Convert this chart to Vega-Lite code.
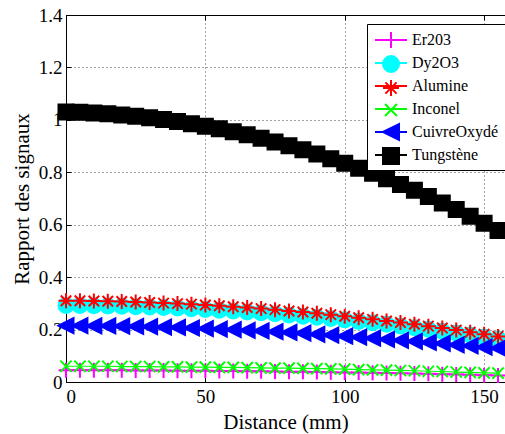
{
  "$schema": "https://vega.github.io/schema/vega-lite/v6.json",
  "width": 439,
  "height": 367,
  "autosize": "none",
  "padding": {"left": 66, "top": 15, "right": 0, "bottom": 52},
  "background": "white",
  "data": {"values": [
    {"d":0,"s":"Er203","v":0.045},{"d":5,"s":"Er203","v":0.045},{"d":10,"s":"Er203","v":0.045},{"d":15,"s":"Er203","v":0.045},{"d":20,"s":"Er203","v":0.045},{"d":25,"s":"Er203","v":0.044},{"d":30,"s":"Er203","v":0.044},{"d":35,"s":"Er203","v":0.044},{"d":40,"s":"Er203","v":0.043},{"d":45,"s":"Er203","v":0.043},{"d":50,"s":"Er203","v":0.043},{"d":55,"s":"Er203","v":0.042},{"d":60,"s":"Er203","v":0.042},{"d":65,"s":"Er203","v":0.041},{"d":70,"s":"Er203","v":0.041},{"d":75,"s":"Er203","v":0.040},{"d":80,"s":"Er203","v":0.039},{"d":85,"s":"Er203","v":0.039},{"d":90,"s":"Er203","v":0.038},{"d":95,"s":"Er203","v":0.037},{"d":100,"s":"Er203","v":0.036},{"d":105,"s":"Er203","v":0.036},{"d":110,"s":"Er203","v":0.035},{"d":115,"s":"Er203","v":0.034},{"d":120,"s":"Er203","v":0.033},{"d":125,"s":"Er203","v":0.032},{"d":130,"s":"Er203","v":0.031},{"d":135,"s":"Er203","v":0.030},{"d":140,"s":"Er203","v":0.029},{"d":145,"s":"Er203","v":0.028},{"d":150,"s":"Er203","v":0.026},{"d":155,"s":"Er203","v":0.025},
    {"d":0,"s":"Dy2O3","v":0.292},{"d":5,"s":"Dy2O3","v":0.292},{"d":10,"s":"Dy2O3","v":0.291},{"d":15,"s":"Dy2O3","v":0.290},{"d":20,"s":"Dy2O3","v":0.289},{"d":25,"s":"Dy2O3","v":0.287},{"d":30,"s":"Dy2O3","v":0.286},{"d":35,"s":"Dy2O3","v":0.284},{"d":40,"s":"Dy2O3","v":0.282},{"d":45,"s":"Dy2O3","v":0.279},{"d":50,"s":"Dy2O3","v":0.277},{"d":55,"s":"Dy2O3","v":0.274},{"d":60,"s":"Dy2O3","v":0.271},{"d":65,"s":"Dy2O3","v":0.267},{"d":70,"s":"Dy2O3","v":0.264},{"d":75,"s":"Dy2O3","v":0.260},{"d":80,"s":"Dy2O3","v":0.256},{"d":85,"s":"Dy2O3","v":0.251},{"d":90,"s":"Dy2O3","v":0.247},{"d":95,"s":"Dy2O3","v":0.242},{"d":100,"s":"Dy2O3","v":0.237},{"d":105,"s":"Dy2O3","v":0.231},{"d":110,"s":"Dy2O3","v":0.226},{"d":115,"s":"Dy2O3","v":0.220},{"d":120,"s":"Dy2O3","v":0.214},{"d":125,"s":"Dy2O3","v":0.207},{"d":130,"s":"Dy2O3","v":0.201},{"d":135,"s":"Dy2O3","v":0.194},{"d":140,"s":"Dy2O3","v":0.187},{"d":145,"s":"Dy2O3","v":0.179},{"d":150,"s":"Dy2O3","v":0.172},{"d":155,"s":"Dy2O3","v":0.164},
    {"d":0,"s":"Alumine","v":0.310},{"d":5,"s":"Alumine","v":0.310},{"d":10,"s":"Alumine","v":0.309},{"d":15,"s":"Alumine","v":0.308},{"d":20,"s":"Alumine","v":0.307},{"d":25,"s":"Alumine","v":0.305},{"d":30,"s":"Alumine","v":0.303},{"d":35,"s":"Alumine","v":0.301},{"d":40,"s":"Alumine","v":0.299},{"d":45,"s":"Alumine","v":0.297},{"d":50,"s":"Alumine","v":0.294},{"d":55,"s":"Alumine","v":0.291},{"d":60,"s":"Alumine","v":0.287},{"d":65,"s":"Alumine","v":0.284},{"d":70,"s":"Alumine","v":0.280},{"d":75,"s":"Alumine","v":0.276},{"d":80,"s":"Alumine","v":0.271},{"d":85,"s":"Alumine","v":0.267},{"d":90,"s":"Alumine","v":0.262},{"d":95,"s":"Alumine","v":0.257},{"d":100,"s":"Alumine","v":0.251},{"d":105,"s":"Alumine","v":0.245},{"d":110,"s":"Alumine","v":0.239},{"d":115,"s":"Alumine","v":0.233},{"d":120,"s":"Alumine","v":0.227},{"d":125,"s":"Alumine","v":0.220},{"d":130,"s":"Alumine","v":0.213},{"d":135,"s":"Alumine","v":0.206},{"d":140,"s":"Alumine","v":0.198},{"d":145,"s":"Alumine","v":0.190},{"d":150,"s":"Alumine","v":0.182},{"d":155,"s":"Alumine","v":0.174},
    {"d":0,"s":"Inconel","v":0.060},{"d":5,"s":"Inconel","v":0.060},{"d":10,"s":"Inconel","v":0.060},{"d":15,"s":"Inconel","v":0.060},{"d":20,"s":"Inconel","v":0.059},{"d":25,"s":"Inconel","v":0.059},{"d":30,"s":"Inconel","v":0.059},{"d":35,"s":"Inconel","v":0.058},{"d":40,"s":"Inconel","v":0.058},{"d":45,"s":"Inconel","v":0.057},{"d":50,"s":"Inconel","v":0.057},{"d":55,"s":"Inconel","v":0.056},{"d":60,"s":"Inconel","v":0.056},{"d":65,"s":"Inconel","v":0.055},{"d":70,"s":"Inconel","v":0.054},{"d":75,"s":"Inconel","v":0.053},{"d":80,"s":"Inconel","v":0.053},{"d":85,"s":"Inconel","v":0.052},{"d":90,"s":"Inconel","v":0.051},{"d":95,"s":"Inconel","v":0.050},{"d":100,"s":"Inconel","v":0.049},{"d":105,"s":"Inconel","v":0.047},{"d":110,"s":"Inconel","v":0.046},{"d":115,"s":"Inconel","v":0.045},{"d":120,"s":"Inconel","v":0.044},{"d":125,"s":"Inconel","v":0.043},{"d":130,"s":"Inconel","v":0.041},{"d":135,"s":"Inconel","v":0.040},{"d":140,"s":"Inconel","v":0.038},{"d":145,"s":"Inconel","v":0.037},{"d":150,"s":"Inconel","v":0.035},{"d":155,"s":"Inconel","v":0.034},
    {"d":0,"s":"CuivreOxydé","v":0.215},{"d":5,"s":"CuivreOxydé","v":0.215},{"d":10,"s":"CuivreOxydé","v":0.214},{"d":15,"s":"CuivreOxydé","v":0.214},{"d":20,"s":"CuivreOxydé","v":0.213},{"d":25,"s":"CuivreOxydé","v":0.212},{"d":30,"s":"CuivreOxydé","v":0.211},{"d":35,"s":"CuivreOxydé","v":0.209},{"d":40,"s":"CuivreOxydé","v":0.208},{"d":45,"s":"CuivreOxydé","v":0.206},{"d":50,"s":"CuivreOxydé","v":0.204},{"d":55,"s":"CuivreOxydé","v":0.202},{"d":60,"s":"CuivreOxydé","v":0.200},{"d":65,"s":"CuivreOxydé","v":0.197},{"d":70,"s":"CuivreOxydé","v":0.195},{"d":75,"s":"CuivreOxydé","v":0.192},{"d":80,"s":"CuivreOxydé","v":0.189},{"d":85,"s":"CuivreOxydé","v":0.186},{"d":90,"s":"CuivreOxydé","v":0.182},{"d":95,"s":"CuivreOxydé","v":0.179},{"d":100,"s":"CuivreOxydé","v":0.175},{"d":105,"s":"CuivreOxydé","v":0.171},{"d":110,"s":"CuivreOxydé","v":0.167},{"d":115,"s":"CuivreOxydé","v":0.163},{"d":120,"s":"CuivreOxydé","v":0.159},{"d":125,"s":"CuivreOxydé","v":0.155},{"d":130,"s":"CuivreOxydé","v":0.151},{"d":135,"s":"CuivreOxydé","v":0.147},{"d":140,"s":"CuivreOxydé","v":0.142},{"d":145,"s":"CuivreOxydé","v":0.138},{"d":150,"s":"CuivreOxydé","v":0.133},{"d":155,"s":"CuivreOxydé","v":0.129},
    {"d":0,"s":"Tungstène","v":1.030},{"d":5,"s":"Tungstène","v":1.029},{"d":10,"s":"Tungstène","v":1.026},{"d":15,"s":"Tungstène","v":1.023},{"d":20,"s":"Tungstène","v":1.019},{"d":25,"s":"Tungstène","v":1.014},{"d":30,"s":"Tungstène","v":1.008},{"d":35,"s":"Tungstène","v":1.001},{"d":40,"s":"Tungstène","v":0.994},{"d":45,"s":"Tungstène","v":0.985},{"d":50,"s":"Tungstène","v":0.976},{"d":55,"s":"Tungstène","v":0.966},{"d":60,"s":"Tungstène","v":0.955},{"d":65,"s":"Tungstène","v":0.943},{"d":70,"s":"Tungstène","v":0.930},{"d":75,"s":"Tungstène","v":0.916},{"d":80,"s":"Tungstène","v":0.901},{"d":85,"s":"Tungstène","v":0.886},{"d":90,"s":"Tungstène","v":0.870},{"d":95,"s":"Tungstène","v":0.852},{"d":100,"s":"Tungstène","v":0.834},{"d":105,"s":"Tungstène","v":0.815},{"d":110,"s":"Tungstène","v":0.796},{"d":115,"s":"Tungstène","v":0.775},{"d":120,"s":"Tungstène","v":0.753},{"d":125,"s":"Tungstène","v":0.731},{"d":130,"s":"Tungstène","v":0.708},{"d":135,"s":"Tungstène","v":0.683},{"d":140,"s":"Tungstène","v":0.658},{"d":145,"s":"Tungstène","v":0.632},{"d":150,"s":"Tungstène","v":0.606},{"d":155,"s":"Tungstène","v":0.578}
  ]},
  "encoding": {
    "y": {
      "field": "v", "type": "quantitative",
      "scale": {"domain": [0, 1.4], "nice": false, "zero": false},
      "axis": {
        "values": [0, 0.2, 0.4, 0.6, 0.8, 1, 1.2, 1.4],
        "format": "~g",
        "title": "Rapport des signaux",
        "grid": true,
        "tickSize": -5,
        "labelPadding": 9,
        "titlePadding": 6,
        "titleFontSize": 21
      }
    }
  },
  "layer": [
    {
      "mark": {"type": "line", "strokeWidth": 1.2},
      "encoding": {
        "x": {
          "field": "d", "type": "quantitative",
          "scale": {"domain": [0, 157.5], "nice": false, "zero": false},
          "axis": {
            "values": [0, 50, 100, 150],
            "title": "Distance (mm)",
            "grid": true,
            "tickSize": -5,
            "labelPadding": 10,
            "titlePadding": 5,
            "titleFontSize": 21
          }
        },
        "color": {
          "field": "s", "type": "nominal",
          "scale": {"domain": ["Er203", "Dy2O3", "Alumine", "Inconel", "CuivreOxydé", "Tungstène"],
                    "range": ["#ff00ff", "#00ffff", "#ff0000", "#00ff00", "#0000ff", "#000000"]},
          "legend": {
            "orient": "none",
            "legendX": 301,
            "legendY": 9,
            "title": null,
            "fillColor": "white",
            "strokeColor": "black",
            "padding": 7,
            "symbolType": "M-2,0L2,0",
            "symbolSize": 256,
            "symbolStrokeWidth": 2,
            "symbolOffset": 8,
            "labelOffset": 12,
            "labelFont": "Liberation Serif",
            "labelFontSize": 16,
            "labelColor": "black",
            "labelLimit": 0,
            "rowPadding": 6
          }
        }
      }
    },
    {
      "mark": {"type": "point", "filled": true, "size": 225, "strokeWidth": 2, "opacity": 1},
      "encoding": {
        "x": {
          "field": "d", "type": "quantitative",
          "scale": {"domain": [0, 157.5], "nice": false, "zero": false},
          "axis": {
            "orient": "top",
            "values": [0, 50, 100, 150],
            "labels": false,
            "title": null,
            "grid": false,
            "tickSize": -5
          }
        },
        "color": {
          "field": "s", "type": "nominal",
          "scale": {"domain": ["Er203", "Dy2O3", "Alumine", "Inconel", "CuivreOxydé", "Tungstène"],
                    "range": ["#ff00ff", "#00ffff", "#ff0000", "#00ff00", "#0000ff", "#000000"]},
          "legend": {
            "orient": "none",
            "legendX": 301,
            "legendY": 9,
            "title": null,
            "fillColor": null,
            "strokeColor": null,
            "padding": 7,
            "symbolSize": 256,
            "symbolStrokeWidth": 2,
            "symbolOffset": 8,
            "labelOffset": 12,
            "labelFont": "Liberation Serif",
            "labelFontSize": 16,
            "labelExpr": "''",
            "labelLimit": 0,
            "rowPadding": 0
          }
        },
        "stroke": {
          "field": "s", "type": "nominal",
          "scale": {"domain": ["Er203", "Dy2O3", "Alumine", "Inconel", "CuivreOxydé", "Tungstène"],
                    "range": ["#ff00ff", "#00ffff", "#ff0000", "#00ff00", "#0000ff", "#000000"]}
        },
        "shape": {
          "field": "s", "type": "nominal",
          "scale": {"domain": ["Er203", "Dy2O3", "Alumine", "Inconel", "CuivreOxydé", "Tungstène"],
                    "range": [
                      "M0,-1L0,1M-1,0L1,0",
                      "M1,0A1,1,0,1,1,-1,0A1,1,0,1,1,1,0Z",
                      "M-1,0L1,0M0,-1L0,1M-0.7,-0.7L0.7,0.7M-0.7,0.7L0.7,-0.7",
                      "M-0.75,-0.75L0.75,0.75M-0.75,0.75L0.75,-0.75",
                      "M-1,0L1,-1L1,1Z",
                      "M-1,-1L1,-1L1,1L-1,1Z"
                    ]}
        }
      }
    }
  ],
  "resolve": {
    "axis": {"x": "independent"},
    "legend": {"color": "independent", "stroke": "independent", "shape": "independent"}
  },
  "config": {
    "view": {"stroke": null},
    "axis": {
      "labelFont": "Liberation Serif",
      "titleFont": "Liberation Serif",
      "labelFontSize": 19,
      "titleFontSize": 20,
      "titleFontWeight": "normal",
      "labelColor": "black",
      "titleColor": "black",
      "domainColor": "black",
      "tickColor": "black",
      "gridColor": "#444444",
      "gridDash": [1, 3],
      "gridOpacity": 1
    }
  }
}
